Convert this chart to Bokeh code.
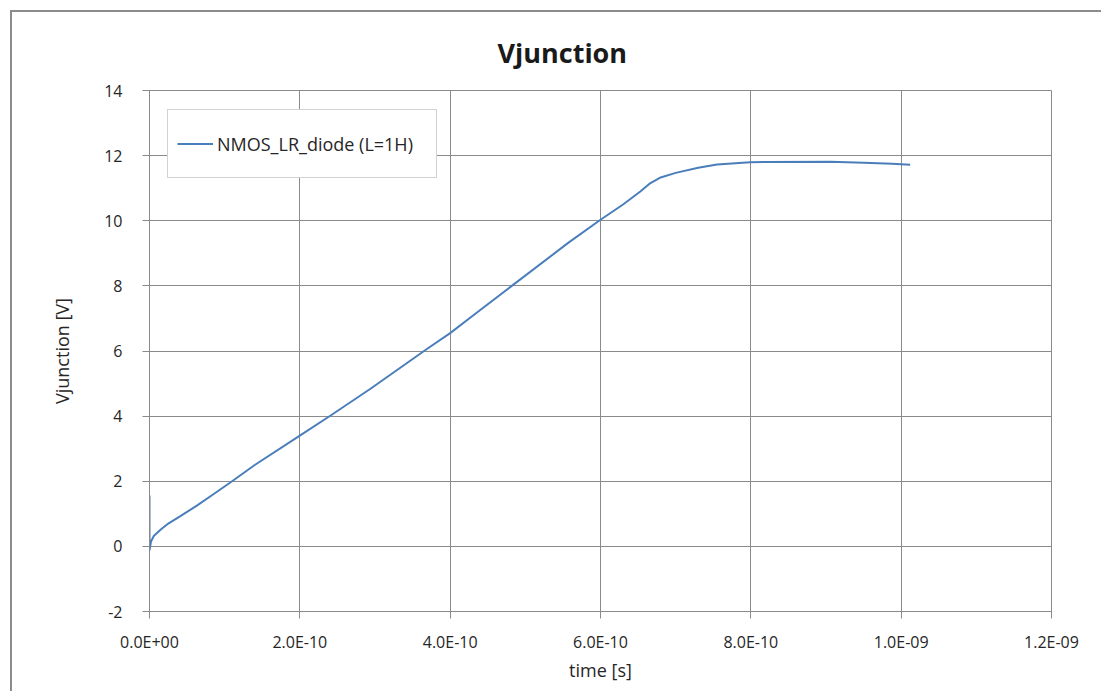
from bokeh.plotting import figure
from bokeh.models import FixedTicker, Range1d, Legend, LegendItem
from bokeh.embed import file_html
from bokeh.resources import INLINE

# data (time in seconds, voltage in volts)
time_s = [0.0, 0.0, 2.0e-12, 5.7e-12, 1.5e-11, 2.5e-11, 4.1e-11, 6.3e-11, 8.5e-11,
          1.08e-10, 1.4e-10, 2.0e-10, 2.41e-10, 2.94e-10, 3.69e-10, 4.0e-10,
          4.27e-10, 4.82e-10, 5.57e-10, 6.0e-10, 6.3e-10, 6.53e-10, 6.66e-10,
          6.8e-10, 7.0e-10, 7.3e-10, 7.55e-10, 7.99e-10, 9.06e-10, 9.5e-10,
          9.88e-10, 1.012e-9]
vjunction = [1.56, -0.12, 0.15, 0.32, 0.52, 0.7, 0.93, 1.25, 1.6,
             1.97, 2.5, 3.4, 4.02, 4.84, 6.06, 6.55,
             7.03, 8.0, 9.32, 10.03, 10.5, 10.9, 11.15,
             11.33, 11.47, 11.63, 11.73, 11.8, 11.81, 11.78,
             11.75, 11.72]

x_ticks = [0.0, 2e-10, 4e-10, 6e-10, 8e-10, 1.0e-9, 1.2e-9]
x_tick_labels = ["0.0E+00", "2.0E-10", "4.0E-10", "6.0E-10", "8.0E-10", "1.0E-09", "1.2E-09"]
y_ticks = [-2, 0, 2, 4, 6, 8, 10, 12, 14]
y_tick_labels = ["-2", "0", "2", "4", "6", "8", "10", "12", "14"]
chart_title = "Vjunction"
series_name = "NMOS_LR_diode (L=1H)"

FONT = "Open Sans"
GRID = "#8a8a8a"
TXT = "#262626"

p = figure(width=1091, height=681, output_backend="svg", toolbar_location=None,
           x_range=Range1d(0, 1.2e-9), y_range=Range1d(-2, 14),
           min_border_left=137, min_border_right=52, min_border_top=77, min_border_bottom=82)
p.margin = (10, 0, 0, 10)
p.styles = {"border-left": "2px solid #8c8c8c", "border-top": "2px solid #8c8c8c"}

p.title.text = chart_title
p.title.text_font = FONT
p.title.text_font_size = "27px"
p.title.text_font_style = "bold"
p.title.text_color = "#1a1a1a"
p.title.align = "left"
p.title.offset = 348
p.title.standoff = 39

p.xaxis.ticker = FixedTicker(ticks=x_ticks)
p.yaxis.ticker = FixedTicker(ticks=y_ticks)
p.xaxis.major_label_overrides = dict(zip(x_ticks, x_tick_labels))
p.yaxis.major_label_overrides = dict(zip(y_ticks, y_tick_labels))

for ax in (p.xaxis, p.yaxis):
    ax.axis_line_color = GRID
    ax.major_tick_line_color = GRID
    ax.major_tick_in = 0
    ax.major_tick_out = 7
    ax.minor_tick_line_color = None
    ax.major_label_text_font = FONT
    ax.major_label_text_font_size = "16px"
    ax.major_label_text_color = TXT
    ax.axis_label_text_font = FONT
    ax.axis_label_text_font_size = "18px"
    ax.axis_label_text_font_style = "normal"
    ax.axis_label_text_color = TXT

p.xaxis.axis_label = "time [s]"
p.yaxis.axis_label = "Vjunction [V]"
p.xaxis.major_label_standoff = 12
p.yaxis.major_label_standoff = 20
p.xaxis.axis_label_standoff = 2
p.yaxis.axis_label_standoff = 27

p.xgrid.grid_line_color = GRID
p.ygrid.grid_line_color = GRID
p.outline_line_color = GRID

r = p.line(time_s, vjunction, line_color="#4a7ebb", line_width=2)

legend = Legend(items=[LegendItem(label=series_name, renderers=[r])],
                location=(18, 433), padding=9, glyph_width=36, glyph_height=49,
                label_height=49, label_width=210, label_standoff=4, label_text_font=FONT,
                label_text_font_size="18px", label_text_color=TXT,
                border_line_color="#a6a6a6", border_line_width=1,
                background_fill_alpha=1)
p.add_layout(legend, "center")

open("out.html", "w").write(file_html(p, INLINE))
